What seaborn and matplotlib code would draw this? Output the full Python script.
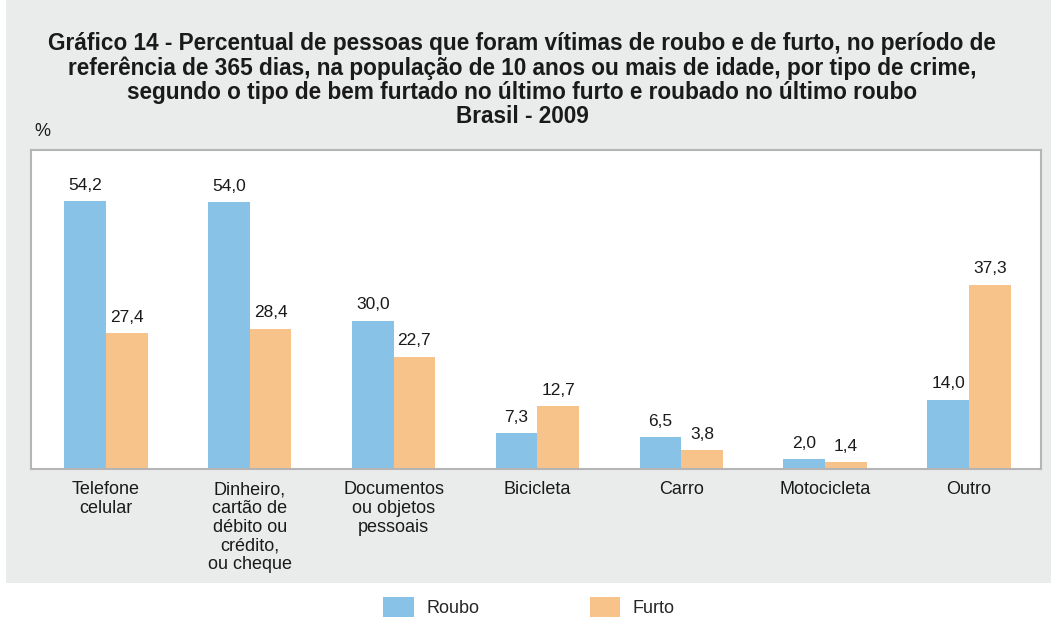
import matplotlib
matplotlib.use("Agg")
import matplotlib.pyplot as plt
import seaborn as sns
import pandas as pd
from matplotlib.patches import Rectangle, Patch

categories = ["Telefone\ncelular", "Dinheiro,\ncartão de\ndébito ou\ncrédito,\nou cheque",
              "Documentos\nou objetos\npessoais", "Bicicleta", "Carro", "Motocicleta", "Outro"]
roubo = [54.2, 54.0, 30.0, 7.3, 6.5, 2.0, 14.0]
furto = [27.4, 28.4, 22.7, 12.7, 3.8, 1.4, 37.3]
series = ["Roubo", "Furto"]
colors = ["#88c3e7", "#f8c38a"]

df = pd.DataFrame({
    "cat": categories * 2,
    "val": roubo + furto,
    "tipo": ["Roubo"] * len(categories) + ["Furto"] * len(categories),
})

sns.set_theme(style="white")
plt.rcParams['font.family'] = ['Liberation Sans', 'DejaVu Sans']

fig = plt.figure(figsize=(10.51, 6.18), dpi=100)
fig.patch.set_facecolor("white")
fig.patches.append(Rectangle((6/1051, 1 - 583/618), 1 - 6/1051, 583/618,
                             transform=fig.transFigure, facecolor="#eaebeb",
                             edgecolor="none", zorder=-10))

ax = fig.add_axes([31/1051, 1 - 469/618, (1041 - 31)/1051, (469 - 150)/618])
ax.set_zorder(5)
ax.set_facecolor("white")
sns.barplot(data=df, x="cat", y="val", hue="tipo", hue_order=series,
            palette=colors, width=0.58, saturation=1, ax=ax, legend=False,
            edgecolor="none")
ax.set_ylim(0, 64.5)
ax.set_xlim(-0.52, len(categories) - 0.5)
ax.set_yticks([])
ax.set_xlabel("")
ax.set_ylabel("")
ax.tick_params(axis="x", length=0, pad=9, labelsize=13, colors="#1a1a1a")
for lab in ax.get_xticklabels():
    lab.set_linespacing(1.12)
for s in ax.spines.values():
    s.set_color("#b5b5b5")
    s.set_linewidth(1.5)

for cont in ax.containers:
    labels = [f"{v:.1f}".replace(".", ",") for v in cont.datavalues]
    ax.bar_label(cont, labels=labels, padding=6, fontsize=12.5, color="#1a1a1a")

title = ("Gráfico 14 - Percentual de pessoas que foram vítimas de roubo e de furto, no período de\n"
         "referência de 365 dias, na população de 10 anos ou mais de idade, por tipo de crime,\n"
         "segundo o tipo de bem furtado no último furto e roubado no último roubo\n"
         "Brasil - 2009")
fig.text(522/1051, 1 - 32/618, title, ha="center", va="top", fontsize=16.3,
         fontweight="bold", linespacing=1.07, color="#1a1a1a")
fig.text(42/1051, 1 - 131/618, "%", ha="center", va="center", fontsize=13, color="#1a1a1a")

handles = [Patch(facecolor=c, edgecolor="none") for c in colors]
fig.legend(handles, series, loc="center", bbox_to_anchor=(529/1051, 1 - 607/618),
           ncol=2, frameon=False, fontsize=13, handlelength=1.7, handleheight=1.3,
           columnspacing=6.1, handletextpad=0.7)

fig.savefig("out.png", dpi=100)
